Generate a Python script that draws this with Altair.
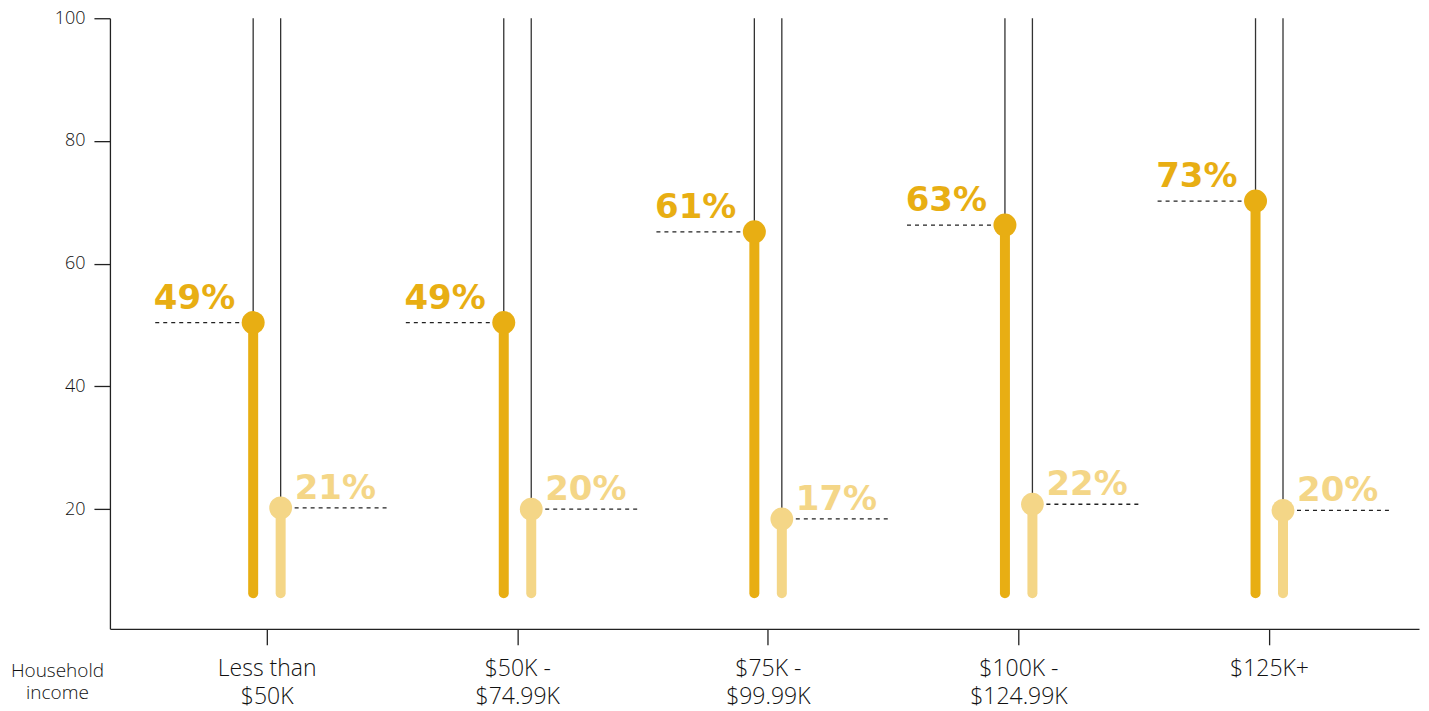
import altair as alt
import pandas as pd

categories = ["Less than|$50K", "$50K -|$74.99K", "$75K -|$99.99K", "$100K -|$124.99K", "$125K+"]
dark_values = [50.4, 50.4, 65.2, 66.3, 70.2]
light_values = [20.2, 20.0, 18.4, 20.8, 19.8]
dark_labels = ["49%", "49%", "61%", "63%", "73%"]
light_labels = ["21%", "20%", "17%", "22%", "20%"]
stem_base = [6.3] * 5
stem_top = [100] * 5
y_ticks = [20, 40, 60, 80, 100]

GOLD = "#E8AE13"
LIGHT = "#F4D687"
DARK_OFF = -13.5
LIGHT_OFF = 14

df = pd.DataFrame({
    "cat": categories,
    "dark": dark_values,
    "light": light_values,
    "dark_label": dark_labels,
    "light_label": light_labels,
    "base": stem_base,
    "top": stem_top,
})

x_enc = alt.X(
    "cat:N",
    sort=categories,
    scale=alt.Scale(type="point", padding=0.612, align=0.511),
    axis=alt.Axis(
        labelExpr="split(datum.label, '|')",
        labelFont="Open Sans",
        labelFontWeight=300,
        labelFontSize=23,
        labelColor="#111",
        labelLineHeight=28,
        labelBaseline="alphabetic",
        labelPadding=31,
        tickSize=16,
        tickColor="#222",
        tickWidth=1.3,
        domainColor="#222",
        domainWidth=1.3,
        labelAngle=0,
        title=["Household", "income"],
        titleFont="Open Sans",
        titleFontWeight=300,
        titleFontSize=19,
        titleColor="#111",
        titleLineHeight=22,
        titleX=-53,
        titleY=48,
        titleAlign="center",
        titleBaseline="alphabetic",
        titleAngle=0,
    ),
)

y_scale = alt.Scale(domain=[0.5, 100], nice=False, zero=False)
y_axis = alt.Axis(
    values=y_ticks,
    grid=False,
    title=None,
    labelFont="Open Sans",
    labelFontWeight=300,
    labelFontSize=18,
    labelColor="#111",
    labelPadding=9,
    tickSize=16,
    tickColor="#222",
    tickWidth=1.3,
    domainColor="#222",
    domainWidth=1.3,
)

base = alt.Chart(df).encode(x=x_enc)

thin_dark = base.mark_rule(color="#333", strokeWidth=1.3, xOffset=DARK_OFF).encode(
    y=alt.Y("dark:Q", scale=y_scale, axis=y_axis), y2="top:Q")
thin_light = base.mark_rule(color="#333", strokeWidth=1.3, xOffset=LIGHT_OFF).encode(
    y=alt.Y("light:Q", scale=y_scale), y2="top:Q")

stem_dark = base.mark_rule(color=GOLD, strokeWidth=10, strokeCap="round", xOffset=DARK_OFF).encode(
    y=alt.Y("base:Q", scale=y_scale), y2="dark:Q")
stem_light = base.mark_rule(color=LIGHT, strokeWidth=10, strokeCap="round", xOffset=LIGHT_OFF).encode(
    y=alt.Y("base:Q", scale=y_scale), y2="light:Q")

dot_dark = base.mark_circle(color=GOLD, size=530, opacity=1, xOffset=DARK_OFF).encode(
    y=alt.Y("dark:Q", scale=y_scale))
dot_light = base.mark_circle(color=LIGHT, size=520, opacity=1, xOffset=LIGHT_OFF).encode(
    y=alt.Y("light:Q", scale=y_scale))

dash_dark = base.mark_rule(color="#222", strokeWidth=1.3, strokeDash=[4, 4],
                           xOffset=DARK_OFF - 98, x2Offset=DARK_OFF - 12).encode(
    x2="cat:N", y=alt.Y("dark:Q", scale=y_scale))
dash_light = base.mark_rule(color="#222", strokeWidth=1.3, strokeDash=[4, 4],
                            xOffset=LIGHT_OFF + 14, x2Offset=LIGHT_OFF + 106).encode(
    x2="cat:N", y=alt.Y("light:Q", scale=y_scale))

text_dark = base.mark_text(color=GOLD, font="DejaVu Sans", fontWeight="bold", fontSize=34,
                           align="right", baseline="alphabetic",
                           xOffset=DARK_OFF - 18, yOffset=-14).encode(
    y=alt.Y("dark:Q", scale=y_scale), text="dark_label:N")
text_light = base.mark_text(color=LIGHT, font="DejaVu Sans", fontWeight="bold", fontSize=34,
                            align="left", baseline="alphabetic",
                            xOffset=LIGHT_OFF + 14, yOffset=-9).encode(
    y=alt.Y("light:Q", scale=y_scale), text="light_label:N")

chart = alt.layer(
    thin_dark, thin_light, stem_dark, stem_light, dash_dark, dash_light,
    dot_dark, dot_light, text_dark, text_light,
).properties(
    width=1310,
    height=611,
    autosize=alt.AutoSizeParams(type="none"),
    padding={"left": 102, "top": 10, "right": 2, "bottom": 80},
).configure_view(stroke=None)

chart.save("out.html", embed_options={"renderer": "svg", "actions": False})
